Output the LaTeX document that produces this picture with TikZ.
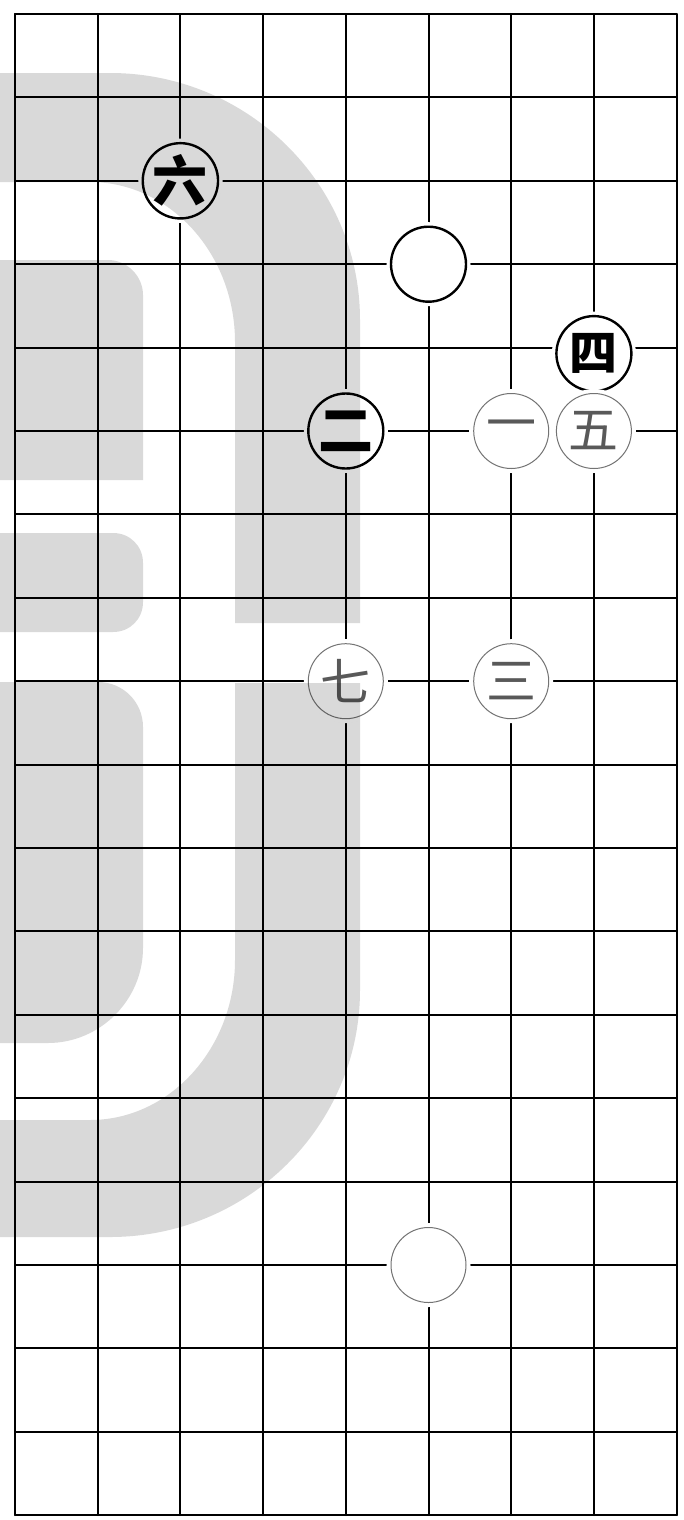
\documentclass[tikz,border=0pt]{standalone}
\usepackage{fontspec}
\newfontfamily\cjk{Noto Sans CJK SC}
\usepackage{tikz}

\begin{document}
\begin{tikzpicture}[
  x=82.7pt, y=-83.4pt,
  every node/.style={font=\cjk\fontsize{50}{50}\selectfont},
  gridline/.style={line width=2pt, line cap=round},
  stone/.style={circle, fill=white, inner sep=0pt, minimum size=75pt,
                preaction={draw=white, line width=9pt}},
  bst/.style={stone, draw, line width=2.4pt,
              font=\cjk\bfseries\fontsize{55}{55}\selectfont},
  wst/.style={stone, draw=black!55, line width=1pt, text=black!65},
  wm/.style={fill=black, fill opacity=0.15}
]
\useasboundingbox (-15pt,14pt) rectangle (669pt,-1506pt);

%% ---- BOARD (9 x 19 lines) ------------------------------------
\foreach \i in {0,...,8}
  \draw[gridline] (\i,0) -- (\i,18);
\foreach \j in {0,...,18}
  \draw[gridline] (0,\j) -- (8,\j);

%% ---- STONES --------------------------------------------------
\node[bst] (liu)   at (2,2)  {六};
\node[bst] (top)   at (5,3)  {};
\node[bst, yshift=-6pt, font=\cjk\bfseries\fontsize{48}{48}\selectfont]
           (si)    at (7,4)  {四};
\node[bst] (er)    at (4,5)  {二};
\node[wst] (yi)    at (6,5)  {一};
\node[wst] (wu)    at (7,5)  {五};
\node[wst] (qi)    at (4,8)  {七};
\node[wst] (san)   at (6,8)  {三};
\node[wst] (low)   at (5,15) {};

%% ---- WATERMARK (pixel units) ---------------------------------
\begin{scope}[x=1pt, y=-1pt, shift={(-15pt,14pt)}]
  % outer band, upper part
  \fill[wm] (0,73) -- (110,73) .. controls (248,73) and (360,184) .. (360,320)
    -- (360,623) -- (235,623) -- (235,342)
    .. controls (235,254) and (170,182) .. (90,182) -- (0,182) -- cycle;
  % outer band, lower part
  \fill[wm] (235,683) -- (360,683) -- (360,990)
    .. controls (360,1126) and (248,1237) .. (110,1237) -- (0,1237)
    -- (0,1120) -- (90,1120) .. controls (170,1120) and (235,1048) .. (235,960)
    -- cycle;
  % inner bars
  \fill[wm] (0,260) -- (108,260) .. controls (127,260) and (143,276) .. (143,295)
    -- (143,480) -- (0,480) -- cycle;
  \fill[wm] (0,533) -- (113,533) .. controls (130,533) and (143,546) .. (143,563)
    -- (143,602) .. controls (143,619) and (130,632) .. (113,632) -- (0,632) -- cycle;
  \fill[wm] (0,682) -- (98,682) .. controls (123,682) and (143,702) .. (143,727)
    -- (143,948) .. controls (143,1000) and (100,1043) .. (48,1043) -- (0,1043) -- cycle;
\end{scope}
\end{tikzpicture}
\end{document}
